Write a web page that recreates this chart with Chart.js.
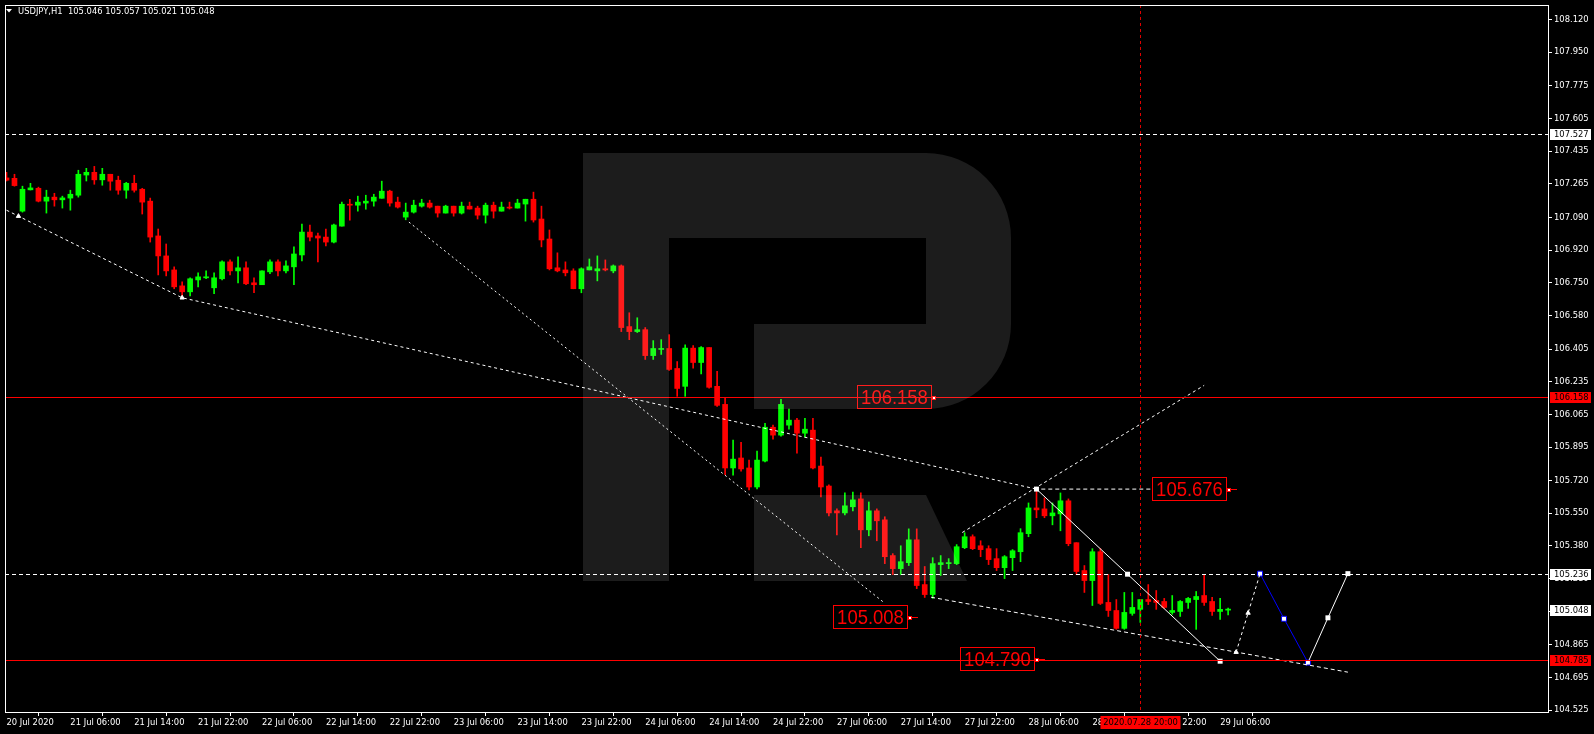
<!DOCTYPE html>
<html>
<head>
<meta charset="utf-8">
<title>USDJPY,H1</title>
<script src="https://cdn.jsdelivr.net/npm/chart.js@4.4.0/dist/chart.umd.min.js"></script>
<style>
  html, body { margin: 0; padding: 0; background: #000; overflow: hidden; }
  canvas { display: block; }
</style>
</head>
<body>
<canvas id="chart" width="1594" height="734"></canvas>
<script>
// --- data (one entry per H1 bar, 20 Jul 22:00 .. 29 Jul 07:00) ---
const symbol = 'USDJPY,H1';

const opens = [
  107.296, 107.294, 107.123, 107.234, 107.242, 107.175, 107.196, 107.182, 107.191, 107.206,
  107.311, 107.325, 107.286, 107.315, 107.284, 107.232, 107.268, 107.237, 107.175, 106.994,
  106.890, 106.817, 106.734, 106.703, 106.765, 106.776, 106.724, 106.771, 106.859, 106.812,
  106.828, 106.750, 106.740, 106.807, 106.859, 106.812, 106.833, 106.895, 107.014, 106.994,
  106.988, 106.962, 107.045, 107.159, 107.154, 107.165, 107.175, 107.190, 107.227, 107.170,
  107.092, 107.118, 107.149, 107.165, 107.149, 107.113, 107.149, 107.113, 107.149, 107.139,
  107.102, 107.154, 107.123, 107.144, 107.139, 107.160, 107.185, 107.082, 106.978, 106.828,
  106.817, 106.812, 106.719, 106.817, 106.812, 106.823, 106.812, 106.838, 106.522, 106.496,
  106.506, 106.371, 106.403, 106.408, 106.304, 106.211, 106.410, 106.335, 106.413, 106.211,
  106.117, 105.786, 105.838, 105.786, 105.687, 105.822, 105.998, 105.957, 106.009, 106.035,
  105.967, 105.983, 105.796, 105.692, 105.563, 105.552, 105.584, 105.625, 105.464, 105.563,
  105.516, 105.330, 105.262, 105.293, 105.412, 105.179, 105.127, 105.283, 105.288, 105.288,
  105.371, 105.428, 105.381, 105.366, 105.314, 105.267, 105.319, 105.350, 105.444, 105.578,
  105.573, 105.537, 105.547, 105.615, 105.397, 105.252, 105.200, 105.350, 105.086, 105.044,
  104.951, 105.029, 105.050, 105.101, 105.096, 105.091, 105.034, 105.039, 105.086, 105.101,
  105.122, 105.091, 105.039, 105.046
];
const highs = [
  107.325, 107.315, 107.253, 107.268, 107.248, 107.232, 107.216, 107.201, 107.232, 107.336,
  107.346, 107.356, 107.346, 107.315, 107.305, 107.273, 107.310, 107.242, 107.191, 107.030,
  106.952, 106.833, 106.755, 106.776, 106.802, 106.812, 106.802, 106.864, 106.869, 106.885,
  106.859, 106.776, 106.812, 106.869, 106.869, 106.864, 106.937, 107.056, 107.051, 107.009,
  107.030, 107.056, 107.170, 107.185, 107.201, 107.206, 107.211, 107.279, 107.232, 107.196,
  107.165, 107.180, 107.185, 107.180, 107.149, 107.154, 107.149, 107.170, 107.170, 107.149,
  107.165, 107.170, 107.170, 107.170, 107.185, 107.185, 107.222, 107.149, 107.025, 106.906,
  106.859, 106.823, 106.828, 106.874, 106.890, 106.869, 106.843, 106.843, 106.594, 106.568,
  106.517, 106.449, 106.454, 106.480, 106.340, 106.427, 106.423, 106.418, 106.413, 106.289,
  106.149, 105.931, 105.920, 105.827, 105.874, 106.019, 106.009, 106.143, 106.092, 106.045,
  106.045, 106.045, 105.843, 105.698, 105.573, 105.656, 105.661, 105.656, 105.609, 105.573,
  105.532, 105.340, 105.381, 105.469, 105.469, 105.273, 105.319, 105.330, 105.314, 105.387,
  105.449, 105.438, 105.407, 105.381, 105.366, 105.330, 105.361, 105.470, 105.604, 105.676,
  105.630, 105.604, 105.656, 105.625, 105.397, 105.278, 105.366, 105.366, 105.231, 105.101,
  105.138, 105.138, 105.101, 105.179, 105.148, 105.107, 105.122, 105.096, 105.112, 105.143,
  105.231, 105.112, 105.107, 105.057
];
const lows = [
  107.280, 107.253, 107.118, 107.233, 107.171, 107.113, 107.149, 107.139, 107.128, 107.196,
  107.280, 107.263, 107.258, 107.232, 107.211, 107.190, 107.222, 107.108, 106.962, 106.791,
  106.786, 106.719, 106.672, 106.682, 106.729, 106.771, 106.693, 106.765, 106.791, 106.750,
  106.740, 106.698, 106.740, 106.797, 106.786, 106.802, 106.740, 106.864, 106.968, 106.859,
  106.942, 106.957, 107.045, 107.076, 107.123, 107.133, 107.149, 107.190, 107.149, 107.139,
  107.078, 107.113, 107.144, 107.139, 107.092, 107.113, 107.097, 107.108, 107.134, 107.082,
  107.061, 107.087, 107.123, 107.134, 107.139, 107.071, 107.066, 106.937, 106.817, 106.807,
  106.786, 106.719, 106.698, 106.817, 106.760, 106.812, 106.802, 106.496, 106.454, 106.491,
  106.351, 106.351, 106.377, 106.294, 106.159, 106.159, 106.306, 106.275, 106.202, 106.107,
  105.751, 105.749, 105.770, 105.672, 105.677, 105.817, 105.936, 105.952, 105.988, 105.863,
  105.946, 105.781, 105.635, 105.537, 105.438, 105.542, 105.563, 105.371, 105.433, 105.407,
  105.288, 105.231, 105.231, 105.278, 105.158, 105.112, 105.107, 105.226, 105.262, 105.283,
  105.366, 105.361, 105.324, 105.283, 105.252, 105.210, 105.252, 105.298, 105.428, 105.527,
  105.527, 105.490, 105.459, 105.381, 105.231, 105.138, 105.070, 105.075, 105.013, 104.946,
  104.946, 105.019, 104.982, 105.075, 105.050, 105.055, 105.024, 105.013, 105.055, 104.946,
  105.070, 105.018, 104.998, 105.021
];
const closes = [
  107.284, 107.256, 107.237, 107.244, 107.175, 107.196, 107.182, 107.192, 107.211, 107.315,
  107.325, 107.286, 107.315, 107.279, 107.232, 107.268, 107.232, 107.170, 106.988, 106.890,
  106.812, 106.729, 106.703, 106.771, 106.781, 106.781, 106.776, 106.859, 106.812, 106.828,
  106.745, 106.740, 106.812, 106.859, 106.812, 106.838, 106.900, 107.014, 106.988, 106.983,
  106.962, 107.051, 107.159, 107.154, 107.170, 107.175, 107.196, 107.227, 107.165, 107.144,
  107.118, 107.154, 107.165, 107.144, 107.113, 107.149, 107.113, 107.149, 107.134, 107.102,
  107.154, 107.123, 107.144, 107.139, 107.165, 107.185, 107.077, 106.973, 106.823, 106.812,
  106.802, 106.719, 106.823, 106.833, 106.823, 106.817, 106.838, 106.517, 106.496, 106.506,
  106.371, 106.408, 106.408, 106.299, 106.200, 106.410, 106.335, 106.413, 106.206, 106.112,
  105.786, 105.832, 105.781, 105.687, 105.827, 105.998, 105.957, 106.117, 106.035, 105.967,
  105.988, 105.786, 105.687, 105.552, 105.552, 105.589, 105.620, 105.464, 105.563, 105.511,
  105.324, 105.262, 105.298, 105.412, 105.174, 105.127, 105.288, 105.293, 105.293, 105.376,
  105.428, 105.366, 105.361, 105.309, 105.267, 105.324, 105.355, 105.449, 105.578, 105.568,
  105.537, 105.552, 105.615, 105.392, 105.247, 105.200, 105.350, 105.081, 105.044, 104.951,
  105.034, 105.060, 105.101, 105.091, 105.086, 105.060, 105.044, 105.091, 105.107, 105.117,
  105.086, 105.039, 105.050, 105.048
];

// time axis: bar index -> label
const timeTickIdx = [0, 8, 16, 24, 32, 40, 48, 56, 64, 72, 80, 88, 96, 104, 112, 120, 128, 136, 144, 152];
const timeTickText = [
  '20 Jul 2020', '21 Jul 06:00', '21 Jul 14:00', '21 Jul 22:00', '22 Jul 06:00',
  '22 Jul 14:00', '22 Jul 22:00', '23 Jul 06:00', '23 Jul 14:00', '23 Jul 22:00',
  '24 Jul 06:00', '24 Jul 14:00', '24 Jul 22:00', '27 Jul 06:00', '27 Jul 14:00',
  '27 Jul 22:00', '28 Jul 06:00', '28 Jul 14:00', '28 Jul 22:00', '29 Jul 06:00'
];
// price axis ticks
const priceTicks = [
  108.120, 107.950, 107.775, 107.605, 107.435, 107.265, 107.090, 106.920, 106.750, 106.580,
  106.405, 106.235, 106.065, 105.895, 105.720, 105.550, 105.380, 105.210, 105.040, 104.865,
  104.695, 104.525
];

// drawn objects
const dashLevels = [107.527, 105.236];      // white dashed horizontals
const redLevels = [106.158, 104.785];       // red horizontals
const timeLineBar = 142;
const timeLineText = '2020.07.28 20:00';
const axisTagPrices = [107.527, 106.158, 105.236, 105.048, 104.785];

const noteValues = [106.158, 105.676, 105.008, 104.790];
const noteBars = [116, 153, 113, 129];
const noteTail = [false, true, true, true];

// trend lines: [bar, price]
const trendA = [[0, 107.128], [1.5, 107.097], [22, 106.672], [129, 105.676]];
const trendB = [[119.7, 105.450], [150, 106.216]];
const trendC = [[50.4, 107.066], [110, 105.082]];
const trendD = [[115.8, 105.113], [168, 104.723]];
const peakLevel = [[129.6, 105.676], [143.3, 105.676]];
const pathDown = [[129, 105.676], [140.4, 105.233], [152, 104.780]];
const pathUp1 = [[154, 104.827], [155.5, 105.031], [157, 105.236]];
const pathBlue = [[157, 105.236], [160, 105.001], [163, 104.773]];
const pathUp2 = [[163, 104.773], [165.5, 105.006], [168, 105.236]];

// --- chart ---
const GREEN = '#00ff00';
const RED = '#ff0000';
const AXIS_FONT = { family: 'DejaVu Sans', size: 8.4 };

const candleColor = closes.map((c, i) => (c >= opens[i] ? GREEN : RED));
const toPts = arr => arr.map(([k, p]) => ({ x: k, y: p }));

function lineSet(points, color, dash, opts) {
  return Object.assign({
    type: 'line',
    data: toPts(points),
    borderColor: color,
    borderWidth: 1,
    borderDash: dash,
    pointRadius: 0,
    fill: false,
    tension: 0,
    order: 0
  }, opts || {});
}

const mt4Plugin = {
  id: 'mt4',
  beforeDraw(chart) {
    const ctx = chart.ctx;
    ctx.save();
    ctx.fillStyle = '#000';
    ctx.fillRect(0, 0, chart.width, chart.height);
    ctx.restore();
  },
  afterDatasetsDraw(chart) {
    const { ctx, chartArea: a, scales: { x, y } } = chart;
    ctx.save();
    ctx.beginPath();
    ctx.rect(a.left, a.top, a.right - a.left, a.bottom - a.top);
    ctx.clip();
    ctx.lineWidth = 1;

    // horizontal levels
    dashLevels.forEach(p => {
      const py = Math.round(y.getPixelForValue(p)) + 0.5;
      ctx.strokeStyle = '#fff';
      ctx.setLineDash([4, 3]);
      ctx.beginPath(); ctx.moveTo(a.left, py); ctx.lineTo(a.right, py); ctx.stroke();
    });
    redLevels.forEach(p => {
      const py = Math.round(y.getPixelForValue(p)) + 0.5;
      ctx.strokeStyle = RED;
      ctx.setLineDash([]);
      ctx.beginPath(); ctx.moveTo(a.left, py); ctx.lineTo(a.right, py); ctx.stroke();
    });

    // vertical time line
    const tx = Math.floor(x.getPixelForValue(timeLineBar)) + 0.5;
    ctx.strokeStyle = '#e00000';
    ctx.setLineDash([3, 3]);
    ctx.beginPath(); ctx.moveTo(tx, a.top); ctx.lineTo(tx, a.bottom); ctx.stroke();
    ctx.setLineDash([]);

    // price notes
    noteValues.forEach((v, i) => {
      const ax = Math.round(x.getPixelForValue(noteBars[i]));
      const ay = Math.round(y.getPixelForValue(v));
      const w = 74, h = 23;
      const right = ax - 2, left = right - w, top = ay - 12;
      ctx.strokeStyle = RED;
      ctx.strokeRect(left + 0.5, top + 0.5, w, h);
      ctx.save();
      ctx.translate(left + w / 2 + 0.5, top + h / 2 + 1.5);
      ctx.scale(0.88, 1);
      ctx.font = '21px "Liberation Sans", Arial, sans-serif';
      ctx.textAlign = 'center';
      ctx.textBaseline = 'middle';
      ctx.fillStyle = RED;
      ctx.fillText(v.toFixed(3), 0, 0);
      ctx.restore();
      if (noteTail[i]) {
        ctx.beginPath(); ctx.moveTo(ax + 2, ay + 0.5); ctx.lineTo(ax + 9, ay + 0.5); ctx.stroke();
      }
      ctx.fillStyle = RED;
      ctx.fillRect(ax - 1, ay - 1, 4, 4);
      ctx.fillStyle = '#fff';
      ctx.fillRect(ax, ay, 2, 2);
    });

    // watermark
    ctx.fillStyle = 'rgba(255,255,255,0.11)';
    ctx.beginPath();
    ctx.moveTo(583, 581);
    ctx.lineTo(583, 153);
    ctx.lineTo(926, 153);
    ctx.arcTo(1011, 153, 1011, 238, 85);
    ctx.lineTo(1011, 324);
    ctx.arcTo(1011, 409, 926, 409, 85);
    ctx.lineTo(754, 409);
    ctx.lineTo(754, 324);
    ctx.lineTo(926, 324);
    ctx.lineTo(926, 238);
    ctx.lineTo(669, 238);
    ctx.lineTo(669, 581);
    ctx.closePath();
    ctx.fill();
    ctx.beginPath();
    ctx.moveTo(754, 495);
    ctx.lineTo(926, 495);
    ctx.lineTo(967, 581);
    ctx.lineTo(754, 581);
    ctx.closePath();
    ctx.fill();

    ctx.restore();
  },
  afterDraw(chart) {
    const { ctx, chartArea: a, scales: { x, y } } = chart;
    ctx.save();
    ctx.lineWidth = 1;
    ctx.setLineDash([]);
    // frame
    ctx.strokeStyle = '#fff';
    ctx.strokeRect(a.left + 0.5, a.top + 0.5, a.right - a.left - 1, a.bottom - a.top - 1);

    ctx.font = AXIS_FONT.size + 'px "' + AXIS_FONT.family + '"';
    ctx.textBaseline = 'middle';

    // header
    ctx.fillStyle = '#fff';
    ctx.beginPath(); ctx.moveTo(6, 9); ctx.lineTo(12, 9); ctx.lineTo(9, 12.5); ctx.closePath(); ctx.fill();
    const last = opens.length - 1;
    const head = symbol + '  ' + [opens[last], highs[last], lows[last], closes[last]].map(v => v.toFixed(3)).join(' ');
    ctx.textAlign = 'left';
    ctx.fillText(head, 18, 11.5);

    // price tags on the axis
    axisTagPrices.forEach(p => {
      const py = Math.round(y.getPixelForValue(p));
      const isRed = redLevels.includes(p);
      ctx.fillStyle = isRed ? RED : '#fff';
      ctx.fillRect(a.right + 1, py - 5, 41, 11);
      ctx.fillStyle = '#000';
      ctx.fillText(p.toFixed(3), a.right + 5, py + 0.5);
    });

    // time tag
    const tx = Math.floor(x.getPixelForValue(timeLineBar)) + 0.5;
    ctx.fillStyle = RED;
    ctx.fillRect(tx - 40, a.bottom + 3, 80, 13);
    ctx.fillStyle = '#000';
    ctx.textAlign = 'center';
    ctx.fillText(timeLineText, tx, a.bottom + 10);
    ctx.restore();
  }
};

new Chart(document.getElementById('chart').getContext('2d'), {
  type: 'bar',
  data: {
    datasets: [
      {
        type: 'bar',
        data: lows.map((l, i) => ({ x: i, y: [l, highs[i]] })),
        backgroundColor: candleColor,
        barThickness: 1,
        grouped: false,
        order: 3
      },
      {
        type: 'bar',
        data: opens.map((o, i) => ({ x: i, y: [o, closes[i]] })),
        backgroundColor: candleColor,
        barThickness: 5,
        minBarLength: 1,
        grouped: false,
        order: 2
      },
      lineSet(trendA, '#fff', [3, 3], { pointRadius: [0, 2.5, 2.5, 0], pointStyle: 'triangle', pointBackgroundColor: '#fff', pointBorderColor: '#fff' }),
      lineSet(trendB, '#fff', [3, 3]),
      lineSet(trendC, '#fff', [2, 3]),
      lineSet(trendD, '#fff', [4, 3]),
      lineSet(peakLevel, '#fff', [4, 3]),
      lineSet(pathUp1, '#fff', [3, 3], { pointRadius: [2.5, 2.5, 0], pointStyle: 'triangle', pointBackgroundColor: '#fff', pointBorderColor: '#fff' }),
      lineSet(pathDown, '#fff', [], { pointRadius: 3.5, pointStyle: 'rect', pointBackgroundColor: '#fff', pointBorderColor: '#fff', pointBorderWidth: 0 }),
      lineSet(pathUp2, '#fff', [], { pointRadius: [0, 3.5, 3.5], pointStyle: 'rect', pointBackgroundColor: '#fff', pointBorderColor: '#fff', pointBorderWidth: 0 }),
      lineSet(pathBlue, '#0000ff', [], { pointRadius: 3.5, pointStyle: 'rect', pointBackgroundColor: '#fff', pointBorderColor: '#0000ff', pointBorderWidth: 1 })
    ]
  },
  options: {
    responsive: false,
    animation: false,
    devicePixelRatio: 1,
    events: [],
    layout: { padding: { left: 2, top: 2, right: 0, bottom: 0 } },
    plugins: { legend: { display: false }, tooltip: { enabled: false } },
    scales: {
      x: {
        type: 'linear',
        position: 'bottom',
        min: -0.1875,
        max: 193.1875,
        bounds: 'data',
        offset: false,
        afterBuildTicks: s => { s.ticks = timeTickIdx.map(v => ({ value: v })); },
        afterFit: s => { s.height = 21; s.paddingLeft = 0; s.paddingRight = 0; },
        ticks: {
          autoSkip: false,
          maxRotation: 0,
          align: 'start',
          padding: 2,
          color: '#fff',
          font: AXIS_FONT,
          callback: (v, i) => timeTickText[i]
        },
        grid: { drawOnChartArea: false, drawTicks: true, tickLength: 3, color: '#fff' },
        border: { display: false }
      },
      y: {
        type: 'linear',
        position: 'right',
        min: 104.5104,
        max: 108.1962,
        bounds: 'data',
        afterBuildTicks: s => { s.ticks = priceTicks.map(v => ({ value: v })); },
        afterFit: s => { s.width = 45; s.paddingTop = 0; s.paddingBottom = 0; },
        ticks: {
          padding: 2,
          color: '#fff',
          font: AXIS_FONT,
          callback: v => Number(v).toFixed(3)
        },
        grid: { drawOnChartArea: false, drawTicks: true, tickLength: 3, color: '#fff' },
        border: { display: false }
      }
    }
  },
  plugins: [mt4Plugin]
});
</script>
</body>
</html>
